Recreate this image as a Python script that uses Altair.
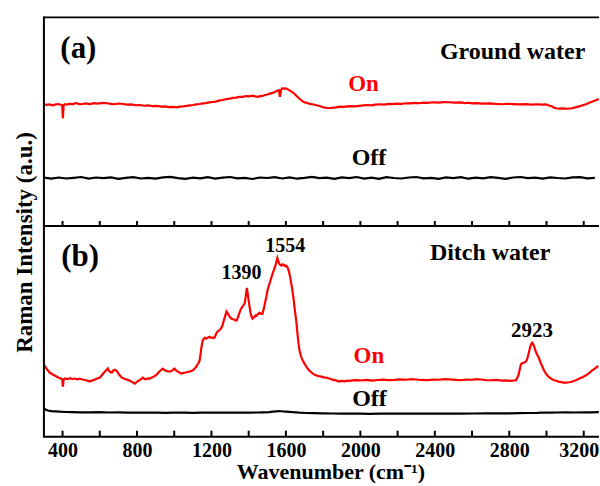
import altair as alt
import pandas as pd

FONT = "Liberation Serif"

# ---------------- data (wavenumber cm-1, intensity a.u.) ----------------
# panel (a): ground water
top_on = [(300,122.0),(315,121.3),(330,121.8),(345,120.9),(360,121.6),(375,122.2),(391,121.5),(398,121.0),(402,108.0),(406,121.2),(413,122.1),(425,121.6),(440,122.6),(455,122.0),(470,123.2),(485,122.4),(500,122.0),(523,122.8),(547,122.2),(570,123.0),(590,122.6),(615,123.4),(638,123.0),(660,122.3),(680,122.0),(702,122.7),(724,122.2),(748,121.6),(770,121.9),(792,121.0),(815,121.2),(838,120.5),(860,120.8),(883,120.1),(906,120.3),(928,119.6),(950,119.8),(970,119.2),(992,119.4),(1012,118.9),(1030,119.6),(1048,119.9),(1067,120.3),(1085,120.8),(1100,121.2),(1118,121.8),(1136,122.2),(1153,122.9),(1170,123.1),(1188,123.8),(1206,124.2),(1222,124.6),(1240,125.6),(1260,126.2),(1281,127.2),(1298,127.6),(1315,128.3),(1333,128.6),(1351,129.3),(1368,129.4),(1385,130.2),(1403,129.8),(1421,130.6),(1436,129.9),(1450,129.4),(1462,130.1),(1474,130.3),(1487,131.2),(1500,131.8),(1514,132.6),(1528,133.4),(1540,134.2),(1550,135.2),(1562,136.0),(1568,129.5),(1574,136.4),(1582,138.0),(1590,137.6),(1600,137.8),(1610,136.9),(1622,135.6),(1635,134.2),(1648,132.0),(1660,129.8),(1675,127.2),(1689,125.0),(1702,123.8),(1715,123.2),(1728,122.4),(1742,122.0),(1760,121.2),(1780,120.2),(1795,119.2),(1810,118.6),(1822,118.2),(1834,118.0),(1852,118.6),(1870,118.9),(1890,119.5),(1910,119.3),(1930,119.9),(1950,120.1),(1972,119.8),(1994,120.3),(2017,120.8),(2040,121.2),(2060,120.9),(2080,121.6),(2105,122.0),(2130,121.7),(2150,122.3),(2171,122.1),(2195,122.6),(2220,122.4),(2245,123.0),(2270,122.8),(2293,123.3),(2316,123.0),(2338,123.6),(2360,123.4),(2390,124.0),(2420,123.7),(2448,124.2),(2477,124.0),(2508,123.6),(2540,123.8),(2560,123.2),(2580,123.5),(2600,122.9),(2622,123.1),(2655,122.6),(2690,122.9),(2725,122.3),(2761,122.0),(2790,122.5),(2820,122.2),(2855,121.8),(2890,122.1),(2920,121.7),(2950,122.0),(2975,121.6),(2997,121.8),(3013,120.8),(3030,119.8),(3040,118.6),(3051,118.0),(3070,117.6),(3090,117.8),(3113,117.5),(3137,118.0),(3155,118.8),(3175,119.8),(3193,121.0),(3212,122.0),(3230,123.5),(3250,125.0),(3265,126.0),(3281,127.2)]

top_off_w = list(range(300, 3281, 40))
top_off_v = [48.5,47.4,48.6,47.6,48.3,49.1,47.5,48.6,47.9,48.8,
             47.3,48.3,48.9,47.6,48.2,47.4,48.7,49.3,48.0,47.3,
             48.5,47.8,48.9,47.5,48.4,49.1,47.7,48.3,47.1,48.6,
             48.1,49.0,47.6,48.8,47.4,48.2,49.2,47.9,48.5,47.3,
             48.7,48.0,49.1,47.5,48.4,47.3,48.9,48.1,47.6,48.6,
             49.1,47.8,48.3,47.2,48.8,48.0,49.0,47.4,48.5,47.7,
             48.9,48.2,47.3,48.6,49.1,47.9,48.4,47.5,48.8,48.1,
             47.6,48.7,49.0,47.8,48.3]

# panel (b): ditch water
bot_on = [(300,72),(308,70),(315,68),(323,66),(332,64),(341,63),(350,62),(360,61),(370,60),(380,59),(391,58.2),(398,57.5),(402,50),(406,57.2),(413,58.3),(427,57.6),(440,58.6),(452,57.8),(465,58.2),(479,57.4),(493,58.1),(507,57.3),(520,56.8),(534,56.2),(547,55.2),(561,56.4),(575,57.2),(588,58.4),(600,59.2),(611,61.5),(622,64.0),(633,66.2),(643,68.3),(649,66.0),(655,65.1),(660,64.3),(665,64.2),(672,66.1),(680,67.0),(686,66.3),(691,66.1),(698,63.8),(705,62.0),(712,60.4),(718,59.2),(729,58.3),(740,57.6),(750,56.9),(761,56.1),(775,54.6),(788,53.1),(799,54.8),(810,56.2),(820,57.3),(831,59.2),(840,57.9),(850,57.6),(859,58.4),(868,58.1),(880,59.2),(890,60.1),(898,61.2),(906,62.1),(915,64.2),(925,66.1),(932,67.3),(938,68.2),(946,67.0),(955,66.1),(966,65.4),(976,65.2),(984,65.8),(990,66.3),(996,67.4),(1002,68.1),(1011,66.2),(1020,65.1),(1030,64.0),(1040,63.2),(1050,63.9),(1060,64.3),(1071,64.8),(1083,65.2),(1091,65.9),(1098,66.3),(1104,67.1),(1110,68.2),(1118,70.0),(1125,72.1),(1131,74.0),(1136,76.2),(1141,82.0),(1145,88.1),(1149,92.5),(1153,96.2),(1158,98.0),(1165,99.1),(1170,98.2),(1174,98.3),(1182,99.4),(1190,100.1),(1198,99.0),(1205,99.3),(1211,98.8),(1217,99.4),(1222,101.6),(1228,104.2),(1236,105.8),(1245,107.1),(1250,108.0),(1254,109.2),(1260,112.0),(1265,115.3),(1272,119.8),(1277,123.0),(1281,125.3),(1288,123.2),(1295,121.1),(1301,119.4),(1308,118.2),(1315,117.8),(1322,117.2),(1328,116.6),(1335,116.2),(1342,119.5),(1350,124.0),(1356,126.8),(1362,129.1),(1370,131.0),(1378,133.2),(1384,140.0),(1390,149.0),(1395,143.0),(1400,136.0),(1405,130.0),(1410,124.2),(1416,120.1),(1421,118.2),(1427,119.3),(1432,120.2),(1437,121.5),(1442,121.2),(1450,122.8),(1458,124.1),(1466,123.0),(1474,123.2),(1481,128.0),(1488,134.1),(1495,140.2),(1501,146.3),(1508,151.0),(1515,155.2),(1521,159.0),(1528,163.1),(1535,166.8),(1542,170.2),(1548,174.5),(1554,179.0),(1560,175.2),(1565,173.1),(1570,172.0),(1576,171.3),(1583,172.6),(1590,172.1),(1597,170.8),(1603,171.2),(1608,169.6),(1612,168.1),(1616,165.8),(1619,163.2),(1624,158.8),(1628,154.1),(1632,150.0),(1635,146.2),(1641,138.0),(1646,130.1),(1652,121.3),(1657,113.2),(1661,105.2),(1665,98.1),(1669,91.8),(1673,86.2),(1680,81.3),(1686,78.2),(1693,75.4),(1700,73.1),(1707,71.0),(1713,69.2),(1720,67.6),(1726,66.1),(1735,64.6),(1745,63.2),(1755,62.1),(1764,61.2),(1777,60.6),(1790,60.1),(1803,59.4),(1817,59.1),(1833,58.2),(1850,57.1),(1868,56.4),(1887,55.2),(1900,55.8),(1915,55.4),(1928,56.1),(1941,55.9),(1970,56.6),(2000,56.3),(2032,56.9),(2064,56.1),(2092,56.8),(2120,57.2),(2150,56.6),(2180,56.9),(2213,57.4),(2246,57.0),(2273,57.7),(2300,57.3),(2330,56.8),(2360,56.6),(2392,57.2),(2423,57.0),(2452,57.6),(2480,57.3),(2510,56.9),(2540,56.5),(2570,57.1),(2600,57.0),(2625,57.6),(2650,57.3),(2675,56.7),(2700,56.5),(2730,56.9),(2760,56.1),(2785,56.4),(2810,55.9),(2825,56.3),(2836,56.6),(2843,59.0),(2850,62.2),(2857,68.0),(2863,72.8),(2870,73.6),(2876,74.1),(2883,74.6),(2890,75.3),(2898,79.0),(2905,84.1),(2910,88.0),(2915,91.2),(2919,93.2),(2923,94.1),(2927,93.0),(2932,91.1),(2938,87.6),(2945,84.0),(2952,81.2),(2959,79.0),(2968,74.2),(2978,70.1),(2987,66.2),(2997,63.1),(3008,60.6),(3020,58.7),(3035,57.1),(3051,56.1),(3065,55.2),(3080,54.6),(3092,54.2),(3104,54.1),(3122,54.5),(3140,55.2),(3157,56.4),(3174,58.1),(3192,59.6),(3210,61.2),(3227,63.5),(3244,66.1),(3261,68.5),(3278,71.0)]

bot_off = [(300,28.5),(306,27.6),(312,27.0),(321,26.2),(340,25.6),(362,25.4),(386,25.0),(420,24.7),(450,24.6),(500,24.4),(550,24.3),(600,24.5),(650,24.2),(700,24.3),(750,24.0),(800,24.2),(868,24.0),(910,24.1),(950,23.8),(1000,24.0),(1050,24.1),(1100,23.9),(1150,24.1),(1200,24.0),(1250,24.2),(1300,24.0),(1350,24.2),(1405,24.0),(1440,24.2),(1480,24.4),(1510,24.6),(1530,25.0),(1550,25.4),(1565,25.7),(1585,25.2),(1600,25.0),(1635,24.5),(1673,24.0),(1710,23.7),(1750,23.5),(1800,23.3),(1850,23.2),(1900,23.1),(1941,23.0),(2000,23.1),(2050,22.9),(2100,23.0),(2170,23.1),(2250,23.1),(2320,23.0),(2400,23.0),(2477,23.0),(2540,23.1),(2600,23.2),(2680,23.3),(2750,23.4),(2800,23.4),(2852,23.6),(2900,23.7),(2950,23.9),(2980,24.2),(3013,24.1),(3060,24.2),(3100,24.3),(3150,24.2),(3200,24.4),(3240,24.3),(3281,24.5)]

tick_values = [400, 600, 800, 1000, 1200, 1400, 1600, 1800, 2000, 2200, 2400, 2600, 2800, 3000, 3200]
label_values = [400, 800, 1200, 1600, 2000, 2400, 2800, 3200]

# annotations (text, wavenumber, intensity)
top_labels = ["(a)", "Ground water", "On", "Off"]
top_label_w = [485, 2818, 2017, 2046]
top_label_v = [177, 174, 142, 68]
bot_labels = ["(b)", "Ditch water", "1390", "1554", "2923", "On", "Off"]
bot_label_w = [495, 2697, 1361, 1596, 2922, 2046, 2049]
bot_label_v = [180, 184, 164, 191, 106, 81, 38]

# styles for annotations
top_label_size = [31, 24, 23, 24]
top_label_color = ["black", "black", "red", "black"]
bot_label_size = [31, 24, 20, 20, 21, 23, 24]
bot_label_color = ["black", "black", "black", "black", "black", "red", "black"]

# ---------------- build ----------------
W = 556
H_TOP = 209
H_BOT = 211
X_MAX = 3282
x_scale = alt.Scale(domain=[300, X_MAX], nice=False, zero=False)
y_top = alt.Scale(domain=[0, 209], nice=False, zero=False)
y_bot = alt.Scale(domain=[0, 211], nice=False, zero=False)
color_scale = alt.Scale(domain=["On", "Off"], range=["#ff0000", "#000000"])

y_axis_top = alt.Axis(title="Raman Intensity (a.u.)", ticks=False, labels=False,
                      domain=False, grid=False, titleFont=FONT, titleFontSize=23,
                      titleFontWeight="bold", titleColor="black",
                      titleX=-7, titleY=225)
x_axis_bot = alt.Axis(values=label_values, format="d", ticks=False, tickSize=0,
                      domain=False, grid=False, labelFont=FONT, labelFontSize=20,
                      labelFontWeight="bold", labelColor="black", labelPadding=4,
                      labelFlush=17, labelFlushOffset=15,
                      title="Wavenumber (cm⁻¹)", titleFont=FONT, titleFontSize=22,
                      titleFontWeight="bold", titleColor="black",
                      titleBaseline="middle", titleY=35, titleX=287)


def frame(pairs_on, pairs_off):
    rows = [{"w": w, "v": v, "s": "On"} for w, v in pairs_on]
    rows += [{"w": w, "v": v, "s": "Off"} for w, v in pairs_off]
    return pd.DataFrame(rows)


top_df = frame(top_on, list(zip(top_off_w, top_off_v)))
bot_df = frame(bot_on, bot_off)
ticks_df = pd.DataFrame({"w": tick_values})
one_row = pd.DataFrame({"k": [0]})


def texts(labels, ws, vs, sizes, colors, yscale, xaxis, yaxis):
    layers = []
    for t, w, v, s, c in zip(labels, ws, vs, sizes, colors):
        d = pd.DataFrame({"w": [w], "v": [v], "t": [t]})
        layers.append(
            alt.Chart(d).mark_text(font=FONT, fontWeight="bold", fontSize=s,
                                   color=("#ff0000" if c == "red" else "#000000"),
                                   align="center", baseline="middle")
            .encode(x=alt.X("w:Q", scale=x_scale, axis=xaxis),
                    y=alt.Y("v:Q", scale=yscale, axis=yaxis),
                    text="t:N")
        )
    return layers


def border(height, top_edge):
    rule = alt.Chart(one_row).mark_rule(color="black", strokeWidth=2)
    parts = [
        rule.encode(x=alt.value(0), y=alt.value(-1), y2=alt.value(height + 1)),
        rule.encode(x=alt.value(0), x2=alt.value(W), y=alt.value(height)),
    ]
    if top_edge:
        parts.append(rule.encode(x=alt.value(0), x2=alt.value(W), y=alt.value(0)))
    return parts


def panel(df, yscale, height, tick_len, xaxis, yaxis, labels, ws, vs, sizes, colors, top_edge):
    lines = alt.Chart(df).mark_line(strokeWidth=2.2, clip=True).encode(
        x=alt.X("w:Q", scale=x_scale, axis=xaxis),
        y=alt.Y("v:Q", scale=yscale, axis=yaxis),
        color=alt.Color("s:N", scale=color_scale, legend=None),
        detail="s:N",
    )
    ticks = alt.Chart(ticks_df).mark_rule(color="black", strokeWidth=2).encode(
        x=alt.X("w:Q", scale=x_scale, axis=xaxis),
        y=alt.value(height), y2=alt.value(height - tick_len),
    )
    return alt.layer(lines, ticks,
                     *texts(labels, ws, vs, sizes, colors, yscale, xaxis, yaxis),
                     *border(height, top_edge)
                     ).properties(width=W, height=height)


top = panel(top_df, y_top, H_TOP, 5, None, y_axis_top,
            top_labels, top_label_w, top_label_v, top_label_size, top_label_color, True)
bot = panel(bot_df, y_bot, H_BOT, 6, x_axis_bot, None,
            bot_labels, bot_label_w, bot_label_v, bot_label_size, bot_label_color, False)

chart = alt.vconcat(top, bot, spacing=0, bounds="flush").properties(
    padding={"left": 14, "top": 15, "right": 0, "bottom": 0}
).configure_view(stroke=None)

chart.save("out.html", embed_options={"renderer": "svg", "actions": False})
